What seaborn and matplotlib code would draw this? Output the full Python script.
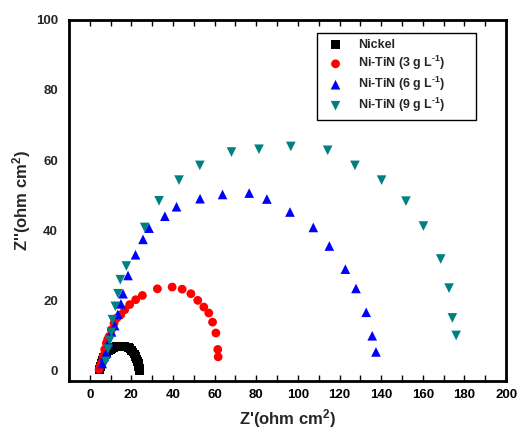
import numpy as np
import pandas as pd
import matplotlib
matplotlib.use('Agg')
import matplotlib.pyplot as plt
import seaborn as sns
from matplotlib.ticker import MultipleLocator

nickel_zr = [4.8, 5.2, 5.7, 6.2, 6.8, 7.5, 8.2, 9.0, 9.8, 10.6, 11.4, 12.2, 13.0, 13.8, 14.6,
             15.4, 16.2, 17.0, 17.8, 18.6, 19.4, 20.1, 20.8, 21.4, 22.0, 22.5, 22.9, 23.3, 23.6, 23.8, 24.0]
nickel_zi = [0.2, 1.2, 2.1, 3.0, 3.8, 4.5, 5.1, 5.6, 6.0, 6.3, 6.55, 6.7, 6.8, 6.85, 6.9,
             6.9, 6.85, 6.8, 6.7, 6.5, 6.2, 5.8, 5.3, 4.7, 4.0, 3.3, 2.6, 1.9, 1.2, 0.6, 0.1]

tin3_zr = [4.5, 5.0, 5.6, 6.4, 7.2, 8.0, 8.6, 9.3, 10.4, 11.7, 13.1, 14.9, 16.8, 19.2, 22.1, 25.3,
           32.5, 39.6, 44.4, 48.6, 51.9, 54.8, 57.2, 59.0, 60.6, 61.5, 61.7]
tin3_zi = [0.3, 1.2, 2.2, 4.1, 6.0, 7.8, 8.8, 9.7, 11.6, 13.5, 15.0, 15.9, 17.3, 18.8, 20.2, 21.4,
           23.3, 23.8, 23.2, 21.9, 20.0, 18.1, 16.4, 13.8, 10.7, 6.0, 3.9]

tin6_zr = [6.0, 7.0, 8.0, 9.0, 10.5, 12.0, 13.5, 15.0, 16.0, 18.4, 22.0, 25.6, 28.5, 36.1, 41.7,
           53.0, 63.8, 76.6, 85.1, 96.2, 107.4, 115.1, 122.8, 127.9, 132.8, 135.7, 137.5]
tin6_zi = [2.0, 4.0, 5.0, 8.0, 11.0, 12.8, 16.0, 19.0, 21.9, 27.1, 33.0, 37.4, 40.6, 44.0, 46.7,
           49.0, 50.2, 50.6, 48.9, 45.2, 40.8, 35.5, 28.9, 23.4, 16.6, 9.9, 5.3]

tin9_zr = [7.7, 8.8, 9.6, 10.4, 10.9, 12.3, 13.6, 14.7, 17.6, 26.4, 33.3, 42.9, 52.9, 68.1, 81.3,
           96.6, 114.3, 127.4, 140.2, 151.9, 160.3, 168.6, 172.6, 174.2, 176.0]
tin9_zi = [2.6, 6.1, 8.6, 10.9, 14.5, 18.3, 21.9, 25.9, 29.8, 40.8, 48.4, 54.3, 58.5, 62.3, 63.1,
           63.9, 62.8, 58.5, 54.3, 48.3, 41.2, 31.8, 23.5, 15.0, 10.0]

labels = ['Nickel', 'Ni-TiN (3 g L$^{\\text{-}1}$)', 'Ni-TiN (6 g L$^{\\text{-}1}$)',
          'Ni-TiN (9 g L$^{\\text{-}1}$)']

sns.set_style('white')
plt.rcParams['font.family'] = ['Liberation Sans', 'DejaVu Sans']
plt.rcParams['font.weight'] = 'bold'
plt.rcParams['mathtext.fontset'] = 'custom'
plt.rcParams['mathtext.rm'] = 'Liberation Sans:bold'
plt.rcParams['mathtext.bf'] = 'Liberation Sans:bold'
plt.rcParams['mathtext.default'] = 'bf'

fig = plt.figure(figsize=(5.18, 4.32), dpi=100)
ax = fig.add_axes([0.133, 0.118, 0.844, 0.836])

sns.scatterplot(x=nickel_zr, y=nickel_zi, ax=ax, marker='s', s=40, color='black',
                edgecolor='none', label=labels[0], zorder=2)
sns.scatterplot(x=tin3_zr, y=tin3_zi, ax=ax, marker='o', s=40, color='#ff0000',
                edgecolor='none', label=labels[1], zorder=3)
sns.scatterplot(x=tin6_zr, y=tin6_zi, ax=ax, marker='^', s=48, color='#0000ff',
                edgecolor='none', label=labels[2], zorder=4)
sns.scatterplot(x=tin9_zr, y=tin9_zi, ax=ax, marker='v', s=48, color='#008080',
                edgecolor='none', label=labels[3], zorder=5)

ax.set_xlim(-10, 200)
ax.set_ylim(-3, 100)
ax.xaxis.set_major_locator(MultipleLocator(20))
ax.xaxis.set_minor_locator(MultipleLocator(10))
ax.yaxis.set_major_locator(MultipleLocator(20))
ax.tick_params(axis='x', which='both', direction='in', length=4, width=1, top=True,
               bottom=True, labelsize=9.5, pad=6, colors='black')
ax.tick_params(axis='y', which='both', length=0, labelsize=9.5, pad=8)
for t in ax.get_xticklabels() + ax.get_yticklabels():
    t.set_fontweight('bold')
for sp in ax.spines.values():
    sp.set_linewidth(2)
    sp.set_color('black')

ax.set_xlabel("Z'(ohm cm$^{2}$)", fontsize=12, fontweight='bold', labelpad=4)
ax.set_ylabel("Z''(ohm cm$^{2}$)", fontsize=12, fontweight='bold', labelpad=2)

leg = ax.legend(loc='upper left', bbox_to_anchor=(0.567, 0.0, 0.364, 0.964), mode='expand',
                fontsize=9, frameon=True, fancybox=False, edgecolor='black', framealpha=1,
                borderpad=0.5, labelspacing=0.22, handletextpad=0.8, borderaxespad=0)
leg.get_frame().set_linewidth(1)

fig.savefig('out.png', dpi=100)
